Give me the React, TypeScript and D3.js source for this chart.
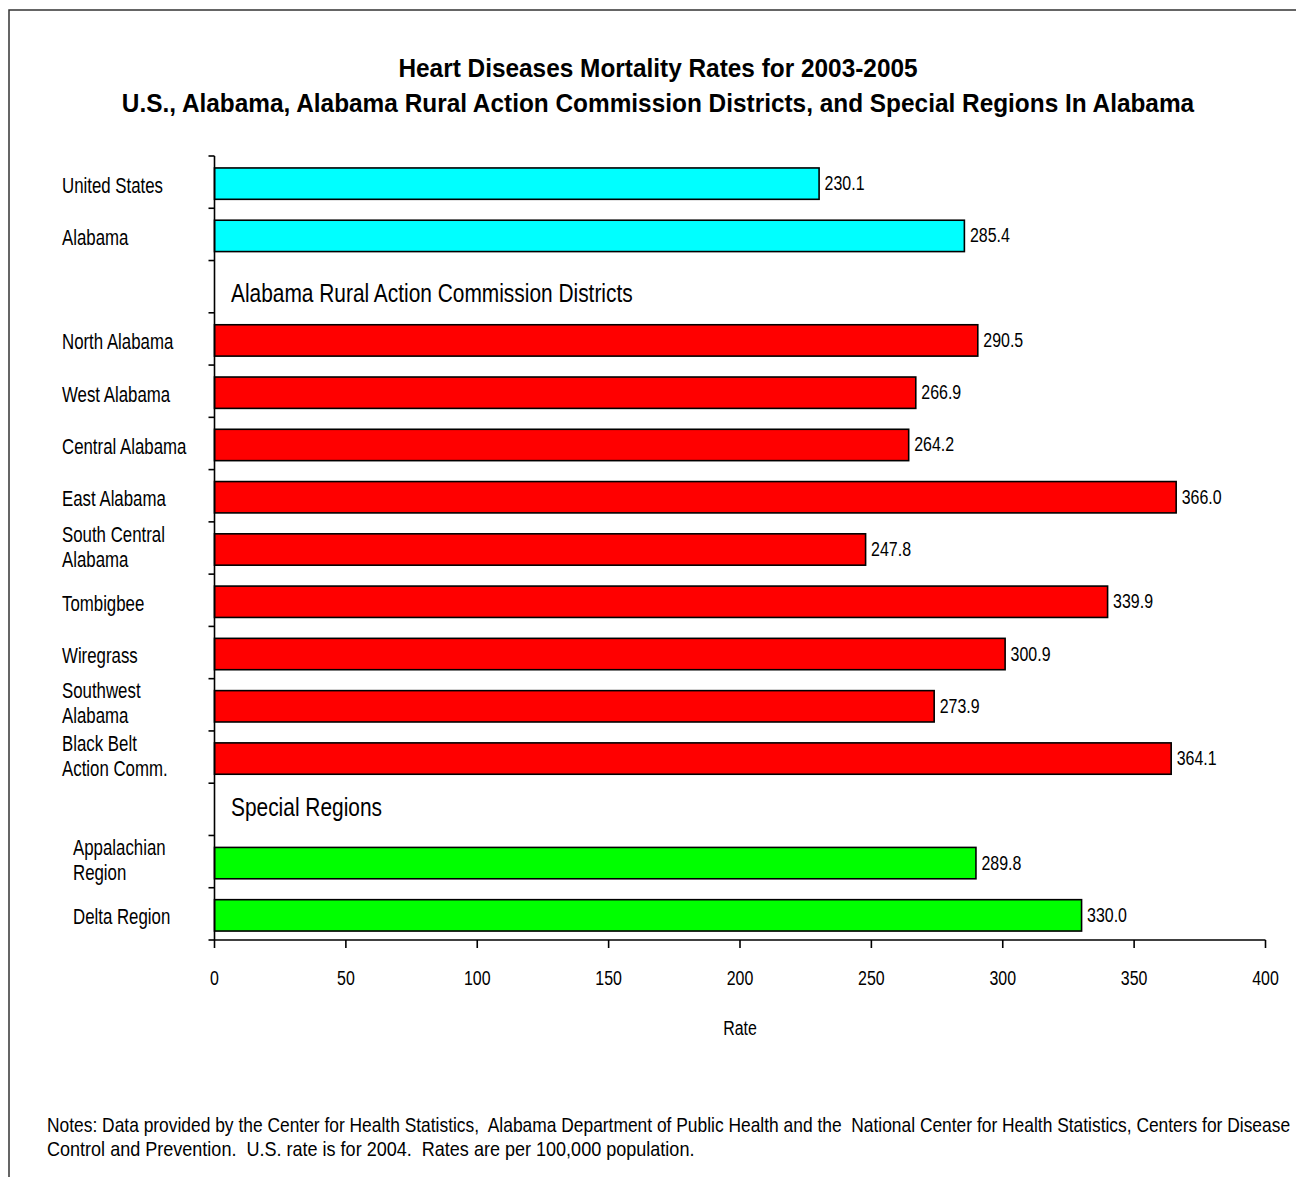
import React from "react";
import * as d3 from "d3";

// ---------- data ----------
const titleLines = [
  "Heart Diseases Mortality Rates for 2003-2005",
  "U.S., Alabama, Alabama Rural Action Commission Districts, and Special Regions In Alabama",
];
const categories = [
  "United States",
  "Alabama",
  "North Alabama",
  "West Alabama",
  "Central Alabama",
  "East Alabama",
  "South Central Alabama",
  "Tombigbee",
  "Wiregrass",
  "Southwest Alabama",
  "Black Belt Action Comm.",
  "Appalachian Region",
  "Delta Region",
];
const labelLines = [
  ["United States"],
  ["Alabama"],
  ["North Alabama"],
  ["West Alabama"],
  ["Central Alabama"],
  ["East Alabama"],
  ["South Central", "Alabama"],
  ["Tombigbee"],
  ["Wiregrass"],
  ["Southwest", "Alabama"],
  ["Black Belt", "Action Comm."],
  ["Appalachian", "Region"],
  ["Delta Region"],
];
const values = [230.1, 285.4, 290.5, 266.9, 264.2, 366.0, 247.8, 339.9, 300.9, 273.9, 364.1, 289.8, 330.0];
const groups = [
  "national", "national",
  "district", "district", "district", "district", "district", "district", "district", "district", "district",
  "special", "special",
];
const groupHeaders = ["Alabama Rural Action Commission Districts", "Special Regions"];
// order of rows on the y axis (headers occupy an empty row)
const rowOrder = [
  "United States",
  "Alabama",
  "Alabama Rural Action Commission Districts",
  "North Alabama",
  "West Alabama",
  "Central Alabama",
  "East Alabama",
  "South Central Alabama",
  "Tombigbee",
  "Wiregrass",
  "Southwest Alabama",
  "Black Belt Action Comm.",
  "Special Regions",
  "Appalachian Region",
  "Delta Region",
];
const xTicks = [0, 50, 100, 150, 200, 250, 300, 350, 400];
const xDomain = [0, 400];
const axisTitle = "Rate";
const notesLines = [
  "Notes: Data provided by the Center for Health Statistics,  Alabama Department of Public Health and the  National Center for Health Statistics, Centers for Disease",
  "Control and Prevention.  U.S. rate is for 2004.  Rates are per 100,000 population.",
];

// ---------- styles ----------
const W = 1296;
const H = 1177;
const FONT = "'Liberation Sans', Arial, Helvetica, sans-serif";
const groupFill: Record<string, string> = {
  national: "#00FFFF",
  district: "#FF0000",
  special: "#00FF00",
};
const labelIndent: Record<string, number> = { national: 62, district: 62, special: 73 };
const headerDy = [15.7, 7];
const notesScale = [0.849, 0.88];

type TProps = {
  x: number;
  y: number;
  s?: number;
  size: number;
  weight?: string | number;
  anchor?: "start" | "middle" | "end";
  children: React.ReactNode;
};
function T({ x, y, s = 1, size, weight = "normal", anchor = "start", children }: TProps) {
  return (
    <text
      transform={`translate(${x},${y}) scale(${s},1)`}
      fontSize={size}
      fontWeight={weight}
      textAnchor={anchor}
      fontFamily={FONT}
      fill="#000"
      style={{ whiteSpace: "pre" }}
    >
      {children}
    </text>
  );
}

export default function App() {
  const x = d3.scaleLinear().domain(xDomain).range([214.5, 1265.5]);
  const y = d3
    .scaleBand<string>()
    .domain(rowOrder)
    .range([156, 940])
    .paddingInner(0.4)
    .paddingOuter(0.2);
  const step = y.step();
  const bw = y.bandwidth();
  const rowTop = (k: string) => (y(k) as number) - step * y.paddingInner() / 2;
  const rowCenter = (k: string) => rowTop(k) + step / 2;
  const boundaries = d3.range(rowOrder.length + 1).map((i) => y.range()[0] + i * step);
  const fmt = d3.format(".1f");
  const x0 = x(0);
  const axisY = y.range()[1];

  return (
    <svg
      width={W}
      height={H}
      viewBox={`0 0 ${W} ${H}`}
      style={{ position: "absolute", left: 0, top: 0, display: "block", background: "#fff" }}
    >
      <rect x={0} y={0} width={W} height={H} fill="#fff" />
      {/* frame */}
      <rect x={9} y={10} width={W + 20} height={H + 20} fill="none" stroke="#333" strokeWidth={1.5} />

      {/* title */}
      <T x={658} y={77} s={0.976} size={25} weight="bold" anchor="middle">{titleLines[0]}</T>
      <T x={658} y={112} s={0.976} size={25} weight="bold" anchor="middle">{titleLines[1]}</T>

      {/* bars */}
      {categories.map((c, i) => (
        <rect
          key={c}
          x={x0}
          y={(y(c) as number) + 1.5}
          width={x(values[i]) - x0}
          height={bw}
          fill={groupFill[groups[i]]}
          stroke="#000"
          strokeWidth={1.6}
        />
      ))}

      {/* value labels */}
      {categories.map((c, i) => (
        <T key={c} x={x(values[i]) + 5.5} y={rowCenter(c) + 8} s={0.76} size={21}>
          {fmt(values[i])}
        </T>
      ))}

      {/* category labels */}
      {categories.map((c, i) => {
        const lines = labelLines[i];
        const cy = rowCenter(c);
        return lines.map((ln, j) => (
          <T
            key={c + j}
            x={labelIndent[groups[i]]}
            y={lines.length === 1 ? cy + 10.5 : cy - 6.5 + j * 25}
            s={0.765}
            size={22}
          >
            {ln}
          </T>
        ));
      })}

      {/* group headers */}
      {groupHeaders.map((h, i) => (
        <T key={h} x={231} y={rowCenter(h) + headerDy[i]} s={0.836} size={25}>
          {h}
        </T>
      ))}

      {/* y axis */}
      <line x1={x0} x2={x0} y1={y.range()[0]} y2={axisY} stroke="#000" strokeWidth={1.6} />
      {boundaries.map((b, i) => (
        <line key={i} x1={x0 - 6} x2={x0} y1={b} y2={b} stroke="#000" strokeWidth={1.6} />
      ))}

      {/* x axis */}
      <line x1={x0} x2={x(xDomain[1])} y1={axisY} y2={axisY} stroke="#000" strokeWidth={1.6} />
      {xTicks.map((t) => (
        <g key={t}>
          <line x1={x(t)} x2={x(t)} y1={axisY} y2={axisY + 8} stroke="#000" strokeWidth={1.6} />
          <T x={x(t)} y={985} s={0.76} size={21} anchor="middle">{String(t)}</T>
        </g>
      ))}
      <T x={740} y={1035} s={0.76} size={21} anchor="middle">{axisTitle}</T>

      {/* notes */}
      <T x={47} y={1132} s={notesScale[0]} size={20.5}>{notesLines[0]}</T>
      <T x={47} y={1156} s={notesScale[1]} size={20.5}>{notesLines[1]}</T>
    </svg>
  );
}
